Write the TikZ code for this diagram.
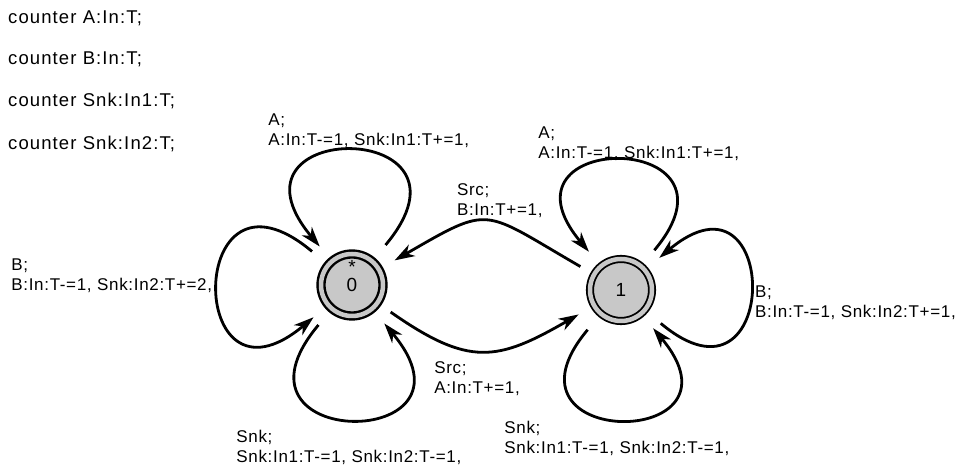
\documentclass[tikz,border=0pt]{standalone}
\usepackage{fontspec}
\setmainfont{Liberation Sans}
\newfontfamily\lblfont[LetterSpace=4]{Liberation Sans}
\newfontfamily\ctrfont[LetterSpace=6]{Liberation Sans}
\usetikzlibrary{automata, positioning, arrows.meta}
\definecolor{stategray}{RGB}{200,200,200}
\tikzset{->,>={Stealth[length=20pt,width=13pt,inset=6pt]},
every edge/.style={draw, line width=2.8pt},
every state/.style={draw, fill=stategray, line width=1.8pt, minimum size=62pt,
  inner sep=0pt, font=\fontsize{19}{22}\selectfont},
accepting/.style={double=stategray, double distance=4.5pt},
petal/.style={min distance=#1, max distance=#1, shorten <=20pt, shorten >=18pt},
swing/.style={min distance=#1, max distance=#1, shorten <=15pt, shorten >=17pt},
trans/.style={align=left, inner sep=0pt, font=\fontsize{17}{20}\lblfont},
counter/.style={anchor=base west, inner sep=0pt, font=\fontsize{18.5}{22}\ctrfont}}

\begin{document}
\begin{tikzpicture}[x=1pt,y=1pt]
\useasboundingbox (0,0) rectangle (959,465);
% counters
\node[counter] (cA) at (8,441) {counter A:In:T;};
\node[counter] (cB) at (8,400) {counter B:In:T;};
\node[counter] (cS1) at (8,358) {counter Snk:In1:T;};
\node[counter] (cS2) at (8,315) {counter Snk:In2:T;};
% states
\node[state,accepting,line width=2.4pt,
  label={[inner sep=0pt,label distance=-21pt,font=\fontsize{19}{22}\selectfont]above:*}] (S0) at (352,180) {0};
\node[state,accepting] (S1) at (621,175) {1};
\draw
(S0) edge[out=50,in=130,petal=186pt] node[trans,anchor=north west,xshift=-85pt,yshift=41pt]
  {A;\\A:In:T-=1, Snk:In1:T+=1,} (S0)
(S0) edge[out=140,in=220,petal=186pt] node[trans,anchor=north east,xshift=-7pt,yshift=28pt]
  {B;\\B:In:T-=1, Snk:In2:T+=2,} (S0)
(S0) edge[out=230,in=310,petal=186pt] node[trans,anchor=north west,xshift=-117pt,yshift=-12pt]
  {Snk;\\Snk:In1:T-=1, Snk:In2:T-=1,} (S0)
(S0) edge[out=-35,in=210,swing=111pt] node[trans,anchor=north west,xshift=-51pt,yshift=-11pt]
  {Src;\\A:In:T+=1,} (S1)
(S1) edge[out=150,in=30,swing=130pt] node[trans,anchor=north west,xshift=-31pt,yshift=40pt]
  {Src;\\B:In:T+=1,} (S0)
(S1) edge[out=50,in=130,petal=178pt] node[trans,anchor=north west,xshift=-84pt,yshift=38pt]
  {A;\\A:In:T-=1, Snk:In1:T+=1,} (S1)
(S1) edge[out=-40,in=40,petal=178pt] node[trans,anchor=north west,xshift=6pt,yshift=6pt]
  {B;\\B:In:T-=1, Snk:In2:T+=1,} (S1)
(S1) edge[out=230,in=310,petal=178pt] node[trans,anchor=north west,xshift=-118pt,yshift=-3pt]
  {Snk;\\Snk:In1:T-=1, Snk:In2:T-=1,} (S1)
;
\end{tikzpicture}
\end{document}
